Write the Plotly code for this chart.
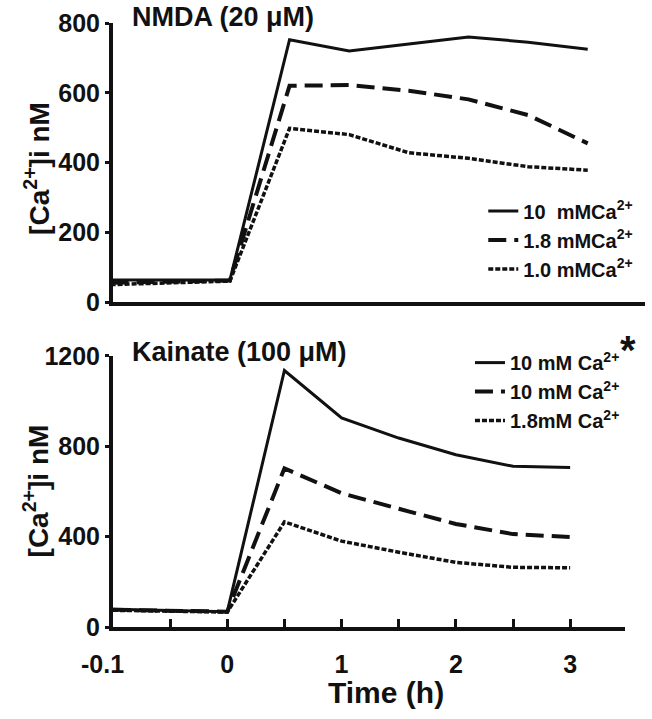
import plotly.graph_objects as go

# ---- data (time in hours; -0.1 h is the pre-treatment baseline) ----
TIME_H = [-0.1, 0, 0.5, 1, 1.5, 2, 2.5, 3]

NMDA_10MM = [63, 63, 752, 720, 740, 760, 745, 725]
NMDA_1_8MM = [55, 62, 620, 622, 606, 581, 536, 455]
NMDA_1_0MM = [50, 60, 498, 480, 428, 412, 388, 378]

KA_10MM_STAR = [78, 68, 1135, 925, 836, 762, 711, 706]
KA_10MM = [76, 68, 702, 592, 523, 456, 411, 398]
KA_1_8MM = [74, 66, 465, 380, 331, 286, 264, 262]

X_TICK_TIMES = [-0.1, -0.05, 0, 0.5, 1, 1.5, 2, 2.5, 3, 3.48]
X_TICK_LABELS = ["-0.1\u00a0\u00a0\u00a0", "", "0", "", "1", "", "2", "", "3", ""]
Y_TICKS_TOP = [0, 200, 400, 600, 800]
Y_TICKS_BOT = [0, 400, 800, 1200]


def axis_pos(t):
    # broken time axis: the pre-treatment interval is stretched 10x
    return t * 10 if t < 0 else t


XPOS = [axis_pos(t) for t in TIME_H]
XTICKPOS = [axis_pos(t) for t in X_TICK_TIMES]

FONT = "Liberation Sans, Arial, Helvetica, sans-serif"
BLACK = "#111111"

fig = go.Figure()

styles = [
    dict(width=3, dash="solid"),
    dict(width=4, dash="18px,8px"),
    dict(width=3.5, dash="5px,2px"),
]

top_names = ["10\u00a0 mMCa<sup>2+</sup>", "1.8 mMCa<sup>2+</sup>", "1.0 mMCa<sup>2+</sup>"]
for name, ys, st in zip(top_names, [NMDA_10MM, NMDA_1_8MM, NMDA_1_0MM], styles):
    fig.add_trace(go.Scatter(x=XPOS, y=ys, mode="lines", name=name,
                             line=dict(color=BLACK, **st),
                             xaxis="x", yaxis="y", legend="legend"))

bot_names = ["10 mM Ca<sup>2+</sup>", "10 mM Ca<sup>2+</sup>", "1.8mM Ca<sup>2+</sup>"]
for name, ys, st in zip(bot_names, [KA_10MM_STAR, KA_10MM, KA_1_8MM], styles):
    fig.add_trace(go.Scatter(x=XPOS, y=ys, mode="lines", name=name,
                             line=dict(color=BLACK, **st),
                             xaxis="x2", yaxis="y2", legend="legend2"))

axis_common = dict(showgrid=False, zeroline=False, showline=True, automargin=False,
                   linecolor=BLACK, linewidth=4, color=BLACK)
tickfont = dict(family=FONT, size=25, color=BLACK, weight="bold")

fig.update_layout(
    template="none",
    width=652, height=719,
    margin=dict(l=113, r=7, t=23, b=92, autoexpand=False),
    paper_bgcolor="white", plot_bgcolor="white",
    font=dict(family=FONT, color=BLACK),
    hovermode=False,
    xaxis=dict(domain=[0, 1], range=[-0.98, 3.48], anchor="y",
               showticklabels=False, ticks="", **axis_common),
    yaxis=dict(domain=[0.538, 1], range=[0, 800], anchor="x",
               tickvals=Y_TICKS_TOP, ticks="outside", ticklen=4, tickwidth=3,
               tickcolor=BLACK, tickfont=tickfont, ticklabelstandoff=0,
               **axis_common),
    xaxis2=dict(domain=[0, 0.9624], range=[-1.0, 3.48], anchor="y2",
                tickvals=XTICKPOS, ticktext=X_TICK_LABELS,
                ticks="inside", ticklen=8, tickwidth=3, tickcolor=BLACK,
                tickfont=tickfont, ticklabelstandoff=12, **axis_common),
    yaxis2=dict(domain=[0, 0.449], range=[0, 1200], anchor="x2",
                tickvals=Y_TICKS_BOT, ticks="outside", ticklen=4, tickwidth=3,
                tickcolor=BLACK, tickfont=tickfont, ticklabelstandoff=0,
                **axis_common),
    legend=dict(x=0.696, y=0.721, xanchor="left", yanchor="top",
                bgcolor="rgba(0,0,0,0)", borderwidth=0,
                font=dict(family=FONT, size=20, color=BLACK, weight="bold"),
                tracegroupgap=0, itemwidth=30),
    legend2=dict(x=0.671, y=0.47, xanchor="left", yanchor="top",
                 bgcolor="rgba(0,0,0,0)", borderwidth=0,
                 font=dict(family=FONT, size=20, color=BLACK, weight="bold"),
                 tracegroupgap=0, itemwidth=30),
    showlegend=True,
)

ann_font = dict(family=FONT, size=27, color=BLACK, weight="bold")
title_font = dict(family=FONT, size=28, color=BLACK, weight="bold")
fig.add_annotation(text="NMDA (20 \u03bcM)", xref="paper", yref="paper",
                   x=0.032, y=1.01, xanchor="left", yanchor="middle",
                   showarrow=False, font=ann_font)
fig.add_annotation(text="Kainate (100 \u03bcM)", xref="paper", yref="paper",
                   x=0.032, y=0.455, xanchor="left", yanchor="middle",
                   showarrow=False, font=ann_font)
fig.add_annotation(text="[Ca<sup>2+</sup>]i nM", xref="paper", yref="paper",
                   x=-0.143, y=0.760, xanchor="center", yanchor="middle",
                   textangle=-90, showarrow=False, font=title_font)
fig.add_annotation(text="[Ca<sup>2+</sup>]i nM", xref="paper", yref="paper",
                   x=-0.143, y=0.226, xanchor="center", yanchor="middle",
                   textangle=-90, showarrow=False, font=title_font)
fig.add_annotation(text="Time (h)", xref="paper", yref="paper",
                   x=0.513, y=-0.108, xanchor="center", yanchor="middle",
                   showarrow=False, font=dict(family=FONT, size=30, color=BLACK, weight="bold"))
fig.add_annotation(text="*", xref="paper", yref="paper",
                   x=0.968, y=0.459, xanchor="center", yanchor="middle",
                   showarrow=False, font=dict(family=FONT, size=40, color=BLACK, weight="bold"))

# remove the browser's default 8px page margin so the figure sits at the window origin
fig.write_html("out.html", config={"displayModeBar": False},
               post_script="document.body.style.margin='0px';")
